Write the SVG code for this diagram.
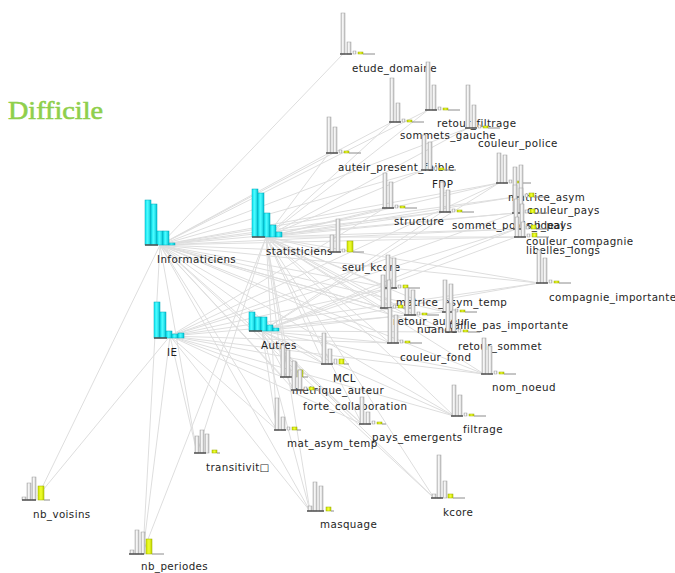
<svg xmlns="http://www.w3.org/2000/svg" width="675" height="573" viewBox="0 0 675 573">
<defs>
<linearGradient id="gg" x1="0" y1="0" x2="1" y2="0"><stop offset="0" stop-color="#c4c4c4"/><stop offset="0.45" stop-color="#ffffff"/><stop offset="1" stop-color="#b8b8b8"/></linearGradient>
<linearGradient id="cg" x1="0" y1="0" x2="1" y2="0"><stop offset="0" stop-color="#10e6f2"/><stop offset="0.45" stop-color="#4dfcff"/><stop offset="1" stop-color="#00c4d6"/></linearGradient>
<linearGradient id="yg" x1="0" y1="0" x2="1" y2="0"><stop offset="0" stop-color="#d0e400"/><stop offset="0.5" stop-color="#f0ff30"/><stop offset="1" stop-color="#c0d400"/></linearGradient>
</defs>
<style>
.edge path{stroke:#dedede;stroke-width:1;fill:none}
.g{fill:url(#gg);stroke:#a0a0a0;stroke-width:0.5}
.c{fill:url(#cg);stroke:#00a6b6;stroke-width:0.5}
.y{fill:url(#yg);stroke:#9aab00;stroke-width:0.5}
.t{stroke:#8c8c8c;stroke-width:1;fill:none}
.b{stroke:#505050;stroke-width:1.5;fill:none}
text{font-family:"DejaVu Sans","Liberation Sans",sans-serif;font-size:10.3px;letter-spacing:0.4px;fill:#1e1e1e}
.title{font-family:"Liberation Serif","DejaVu Serif",serif;font-size:26px;letter-spacing:0;fill:#8fcf4c;stroke:#8fcf4c;stroke-width:0.6}
</style>
<rect width="675" height="573" fill="#ffffff"/>
<text class="title" x="8" y="119" textLength="95" lengthAdjust="spacingAndGlyphs">Difficile</text>
<g id="edges" class="edge">
<path d="M160 245L343 54"/><path d="M160 245L428 110"/><path d="M160 245L392 122"/><path d="M160 245L468 128"/><path d="M160 245L329 153"/><path d="M160 245L424 170"/><path d="M160 245L385 208"/><path d="M160 245L442 212"/><path d="M160 245L499 183"/><path d="M160 245L515 197"/><path d="M160 245L515 213"/><path d="M160 245L516 229"/><path d="M160 245L516 237"/><path d="M160 245L539 283"/><path d="M160 245L332 252"/><path d="M160 245L390 288"/><path d="M160 245L383 308"/><path d="M160 245L407 315"/><path d="M160 245L445 312"/><path d="M160 245L390 343"/><path d="M160 245L448 332"/><path d="M160 245L484 374"/><path d="M160 245L324 364"/><path d="M160 245L283 377"/><path d="M160 245L294 390"/><path d="M160 245L362 424"/><path d="M160 245L277 430"/><path d="M160 245L197 453"/><path d="M160 245L38 496"/><path d="M160 245L143 552"/><path d="M160 245L454 416"/><path d="M160 245L434 498"/><path d="M160 245L310 511"/>
<path d="M266 237L428 110"/><path d="M266 237L392 122"/><path d="M266 237L468 128"/><path d="M266 237L329 153"/><path d="M266 237L424 170"/><path d="M266 237L385 208"/><path d="M266 237L442 212"/><path d="M266 237L499 183"/><path d="M266 237L515 197"/><path d="M266 237L515 213"/><path d="M266 237L516 229"/><path d="M266 237L516 237"/><path d="M266 237L539 283"/><path d="M266 237L332 252"/><path d="M266 237L390 288"/><path d="M266 237L383 308"/><path d="M266 237L407 315"/><path d="M266 237L445 312"/><path d="M266 237L390 343"/><path d="M266 237L448 332"/><path d="M266 237L484 374"/><path d="M266 237L324 364"/><path d="M266 237L283 377"/><path d="M266 237L294 390"/><path d="M266 237L362 424"/><path d="M266 237L277 430"/><path d="M266 237L197 453"/><path d="M266 237L143 552"/><path d="M266 237L454 416"/><path d="M266 237L434 498"/><path d="M266 237L310 511"/>
<path d="M170 336L385 208"/><path d="M170 336L499 183"/><path d="M170 336L515 213"/><path d="M170 336L516 229"/><path d="M170 336L539 283"/><path d="M170 336L390 288"/><path d="M170 336L445 312"/><path d="M170 336L390 343"/><path d="M170 336L484 374"/><path d="M170 336L324 364"/><path d="M170 336L283 377"/><path d="M170 336L362 424"/><path d="M170 336L277 430"/><path d="M170 336L197 453"/><path d="M170 336L38 496"/><path d="M170 336L143 552"/><path d="M170 336L454 416"/><path d="M170 336L310 511"/>
<path d="M262 331L442 212"/><path d="M262 331L499 183"/><path d="M262 331L516 229"/><path d="M262 331L516 237"/><path d="M262 331L539 283"/><path d="M262 331L390 288"/><path d="M262 331L407 315"/><path d="M262 331L390 343"/><path d="M262 331L448 332"/><path d="M262 331L484 374"/><path d="M262 331L324 364"/><path d="M262 331L294 390"/><path d="M262 331L362 424"/><path d="M262 331L277 430"/><path d="M262 331L454 416"/><path d="M262 331L434 498"/><path d="M262 331L310 511"/>
</g>

<g id="n_Informaticiens"><text x="157" y="263">Informaticiens</text><g transform="translate(145,245)"><rect class="c" x="0" y="-45" width="6" height="45"/><rect class="c" x="6" y="-41" width="6" height="41"/><rect class="c" x="12" y="-14" width="6" height="14"/><rect class="c" x="18" y="-14" width="6" height="14"/><rect class="c" x="24" y="-2" width="6" height="2"/><path class="b" d="M0 0H13"/></g></g>
<g id="n_statisticiens"><text x="266" y="255">statisticiens</text><g transform="translate(252,237)"><rect class="c" x="0" y="-48" width="6" height="48"/><rect class="c" x="6" y="-44" width="6" height="44"/><rect class="c" x="12" y="-24" width="6" height="24"/><rect class="c" x="18" y="-12" width="6" height="12"/><rect class="c" x="24" y="-5" width="6" height="5"/><path class="b" d="M0 0H13"/></g></g>
<g id="n_IE"><text x="167" y="356">IE</text><g transform="translate(154,338)"><rect class="c" x="0" y="-36" width="6" height="36"/><rect class="c" x="6" y="-26" width="6" height="26"/><rect class="c" x="12" y="-7" width="6" height="7"/><rect class="c" x="18" y="-4" width="6" height="4"/><rect class="c" x="24" y="-5" width="6" height="5"/><path class="b" d="M0 0H13"/></g></g>
<g id="n_Autres"><text x="261" y="349">Autres</text><g transform="translate(249,331)"><rect class="c" x="0" y="-19" width="6" height="19"/><rect class="c" x="6" y="-14" width="6" height="14"/><rect class="c" x="12" y="-14" width="6" height="14"/><rect class="c" x="18" y="-6" width="6" height="6"/><rect class="c" x="24" y="-3" width="6" height="3"/><path class="b" d="M0 0H13"/></g></g>

<g id="n_etude_domaine"><text x="352" y="72">etude_domaine</text><g transform="translate(341,54)"><rect class="g" x="0" y="-41" width="4" height="41"/><rect class="g" x="6" y="-12" width="4" height="12"/><rect class="g" x="12" y="-3" width="3" height="3"/><rect class="y" x="17" y="-2" width="5" height="2"/><path class="t" d="M22 0H34"/><path class="b" d="M-1 0H11"/></g></g>
<g id="n_retour_filtrage"><text x="437" y="127">retour_filtrage</text><g transform="translate(426,110)"><rect class="g" x="0" y="-48" width="4" height="48"/><rect class="g" x="6" y="-25" width="4" height="25"/><rect class="g" x="12" y="-3" width="3" height="3"/><rect class="y" x="17" y="-2" width="5" height="2"/><path class="t" d="M22 0H34"/><path class="b" d="M-1 0H11"/></g></g>
<g id="n_sommets_gauche"><text x="400" y="139">sommets_gauche</text><g transform="translate(390,122)"><rect class="g" x="0" y="-44" width="4" height="44"/><rect class="g" x="6" y="-19" width="4" height="19"/><rect class="g" x="12" y="-3" width="3" height="3"/><rect class="y" x="17" y="-2" width="5" height="2"/><path class="t" d="M22 0H34"/><path class="b" d="M-1 0H11"/></g></g>
<g id="n_couleur_police"><text x="478" y="147">couleur_police</text><g transform="translate(466,128)"><rect class="g" x="0" y="-43" width="4" height="43"/><rect class="g" x="6" y="-23" width="4" height="23"/><rect class="g" x="12" y="-3" width="3" height="3"/><rect class="y" x="17" y="-2" width="5" height="2"/><path class="t" d="M22 0H34"/><path class="b" d="M-1 0H11"/></g></g>
<g id="n_auteir_present_faible"><text x="338" y="171">auteir_present_faible</text><g transform="translate(327,153)"><rect class="g" x="0" y="-36" width="4" height="36"/><rect class="g" x="6" y="-26" width="4" height="26"/><rect class="g" x="12" y="-3" width="3" height="3"/><rect class="y" x="17" y="-2" width="5" height="2"/><path class="t" d="M22 0H34"/><path class="b" d="M-1 0H11"/></g></g>
<g id="n_FDP"><text x="432" y="188">FDP</text><g transform="translate(422,170)"><rect class="g" x="0" y="-35" width="4" height="35"/><rect class="g" x="6" y="-28" width="4" height="28"/><rect class="g" x="12" y="-3" width="3" height="3"/><rect class="y" x="17" y="-2" width="5" height="2"/><path class="t" d="M22 0H34"/><path class="b" d="M-1 0H11"/></g></g>
<g id="n_structure"><text x="394" y="225">structure</text><g transform="translate(383,208)"><rect class="g" x="0" y="-35" width="4" height="35"/><rect class="g" x="6" y="-26" width="4" height="26"/><rect class="g" x="12" y="-3" width="3" height="3"/><rect class="y" x="17" y="-2" width="5" height="2"/><path class="t" d="M22 0H34"/><path class="b" d="M-1 0H11"/></g></g>
<g id="n_sommet_poids_ideal"><text x="452" y="229">sommet_poids_ideal</text><g transform="translate(440,212)"><rect class="g" x="0" y="-30" width="4" height="30"/><rect class="g" x="6" y="-22" width="4" height="22"/><rect class="g" x="12" y="-3" width="3" height="3"/><rect class="y" x="17" y="-2" width="5" height="2"/><path class="t" d="M22 0H34"/><path class="b" d="M-1 0H11"/></g></g>
<g id="n_matrice_asym"><text x="508" y="201">matrice_asym</text><g transform="translate(497,183)"><rect class="g" x="0" y="-30" width="4" height="30"/><rect class="g" x="6" y="-28" width="4" height="28"/><rect class="g" x="12" y="-3" width="3" height="3"/><rect class="y" x="17" y="-2" width="5" height="2"/><path class="t" d="M22 0H34"/><path class="b" d="M-1 0H11"/></g></g>
<g id="n_couleur_pays"><text x="527" y="214">couleur_pays</text><g transform="translate(513,197)"><rect class="g" x="0" y="-30" width="4" height="30"/><rect class="g" x="6" y="-32" width="4" height="32"/><rect class="g" x="12" y="-3" width="3" height="3"/><rect class="y" x="16" y="-4" width="5" height="4"/><path class="t" d="M21 0H33"/><path class="b" d="M-1 0H11"/></g></g>
<g id="n_nb_pays"><text x="527" y="229">nb_pays</text><g transform="translate(513,213)"><rect class="g" x="0" y="-28" width="4" height="28"/><rect class="g" x="6" y="-25" width="4" height="25"/><rect class="g" x="12" y="-3" width="3" height="3"/><rect class="y" x="17" y="-4" width="5" height="4"/><path class="t" d="M22 0H34"/><path class="b" d="M-1 0H11"/></g></g>
<g id="n_couleur_compagnie"><text x="526" y="245">couleur_compagnie</text><g transform="translate(514,229)"><rect class="g" x="0" y="-30" width="4" height="30"/><rect class="g" x="6" y="-25" width="4" height="25"/><rect class="g" x="12" y="-3" width="3" height="3"/><rect class="y" x="17" y="-4" width="5" height="4"/><path class="t" d="M22 0H34"/><path class="b" d="M-1 0H11"/></g></g>
<g id="n_libelles_longs"><text x="526" y="254">libelles_longs</text><g transform="translate(515,237)"><rect class="g" x="0" y="-20" width="4" height="20"/><rect class="g" x="6" y="-15" width="4" height="15"/><rect class="g" x="12" y="-3" width="3" height="3"/><rect class="y" x="17" y="-4" width="5" height="4"/><path class="t" d="M22 0H34"/><path class="b" d="M-1 0H11"/></g></g>
<g id="n_compagnie_importante"><text x="549" y="301">compagnie_importante</text><g transform="translate(537,283)"><rect class="g" x="0" y="-33" width="4" height="33"/><rect class="g" x="6" y="-25" width="4" height="25"/><rect class="g" x="12" y="-3" width="3" height="3"/><rect class="y" x="17" y="-2" width="5" height="2"/><path class="t" d="M22 0H34"/><path class="b" d="M-1 0H11"/></g></g>
<g id="n_seul_kcore"><text x="342" y="271">seul_kcore</text><g transform="translate(330,252)"><rect class="g" x="0" y="-17" width="4" height="17"/><rect class="g" x="6" y="-33" width="4" height="33"/><rect class="g" x="12" y="-3" width="3" height="3"/><rect class="y" x="17" y="-11" width="6" height="11"/><path class="t" d="M23 0H34"/><path class="b" d="M-1 0H11"/></g></g>
<g id="n_matrice_asym_temp"><text x="396" y="306">matrice_asym_temp</text><g transform="translate(386,288)"><rect class="g" x="0" y="-33" width="4" height="33"/><rect class="g" x="6" y="-30" width="4" height="30"/><rect class="g" x="12" y="-3" width="3" height="3"/><rect class="y" x="17" y="-3" width="5" height="3"/><path class="t" d="M22 0H34"/><path class="b" d="M-1 0H11"/></g></g>
<g id="n_retour_auteur"><text x="393" y="325">retour_auteur</text><g transform="translate(381,308)"><rect class="g" x="0" y="-33" width="4" height="33"/><rect class="g" x="6" y="-28" width="4" height="28"/><rect class="g" x="12" y="-3" width="3" height="3"/><rect class="y" x="17" y="-3" width="5" height="3"/><path class="t" d="M22 0H34"/><path class="b" d="M-1 0H11"/></g></g>
<g id="n_taille_pas_importante"><text x="449" y="329">taille_pas_importante</text><g transform="translate(443,312)"><rect class="g" x="0" y="-32" width="4" height="32"/><rect class="g" x="6" y="-28" width="4" height="28"/><rect class="g" x="12" y="-3" width="3" height="3"/><rect class="y" x="17" y="-2" width="5" height="2"/><path class="t" d="M22 0H34"/><path class="b" d="M-1 0H11"/></g></g>
<g id="n_nuance"><text x="417" y="333">nuance</text><g transform="translate(405,315)"><rect class="g" x="0" y="-27" width="4" height="27"/><rect class="g" x="6" y="-25" width="4" height="25"/><rect class="g" x="12" y="-3" width="3" height="3"/><rect class="y" x="17" y="-2" width="5" height="2"/><path class="t" d="M22 0H34"/><path class="b" d="M-1 0H11"/></g></g>
<g id="n_couleur_fond"><text x="400" y="361">couleur_fond</text><g transform="translate(388,343)"><rect class="g" x="0" y="-35" width="4" height="35"/><rect class="g" x="6" y="-28" width="4" height="28"/><rect class="g" x="12" y="-3" width="3" height="3"/><rect class="y" x="17" y="-2" width="5" height="2"/><path class="t" d="M22 0H34"/><path class="b" d="M-1 0H11"/></g></g>
<g id="n_retour_sommet"><text x="458" y="350">retour_sommet</text><g transform="translate(446,332)"><rect class="g" x="0" y="-29" width="4" height="29"/><rect class="g" x="6" y="-22" width="4" height="22"/><rect class="g" x="12" y="-3" width="3" height="3"/><rect class="y" x="17" y="-2" width="5" height="2"/><path class="t" d="M22 0H34"/><path class="b" d="M-1 0H11"/></g></g>
<g id="n_nom_noeud"><text x="492" y="391">nom_noeud</text><g transform="translate(482,374)"><rect class="g" x="0" y="-36" width="4" height="36"/><rect class="g" x="6" y="-28" width="4" height="28"/><rect class="g" x="12" y="-3" width="3" height="3"/><rect class="y" x="17" y="-2" width="5" height="2"/><path class="t" d="M22 0H34"/><path class="b" d="M-1 0H11"/></g></g>
<g id="n_MCL"><text x="333" y="382">MCL</text><g transform="translate(322,364)"><rect class="g" x="0" y="-31" width="4" height="31"/><rect class="g" x="6" y="-15" width="4" height="15"/><rect class="g" x="12" y="-5" width="3" height="5"/><rect class="y" x="17" y="-5" width="5" height="5"/><path class="t" d="M22 0H27"/><path class="b" d="M-1 0H11"/></g></g>
<g id="n_metrique_auteur"><text x="292" y="394">metrique_auteur</text><g transform="translate(281,377)"><rect class="g" x="0" y="-32" width="4" height="32"/><rect class="g" x="5" y="-27" width="4" height="27"/><rect class="g" x="12" y="-15" width="4" height="15"/><rect class="y" x="17" y="-7" width="5" height="7"/><path class="t" d="M22 0H27"/><path class="b" d="M-1 0H11"/></g></g>
<g id="n_forte_collaboration"><text x="303" y="410">forte_collaboration</text><g transform="translate(292,390)"><rect class="g" x="0" y="-29" width="4" height="29"/><rect class="g" x="6" y="-20" width="4" height="20"/><rect class="g" x="12" y="-3" width="3" height="3"/><rect class="y" x="17" y="-3" width="5" height="3"/><path class="t" d="M22 0H27"/><path class="b" d="M-1 0H11"/></g></g>
<g id="n_pays_emergents"><text x="372" y="441">pays_emergents</text><g transform="translate(360,424)"><rect class="g" x="0" y="-27" width="4" height="27"/><rect class="g" x="6" y="-12" width="4" height="12"/><rect class="g" x="12" y="-3" width="3" height="3"/><rect class="y" x="17" y="-2" width="5" height="2"/><path class="t" d="M22 0H26"/><path class="b" d="M-1 0H11"/></g></g>
<g id="n_mat_asym_temp"><text x="287" y="447">mat_asym_temp</text><g transform="translate(275,430)"><rect class="g" x="0" y="-32" width="4" height="32"/><rect class="g" x="6" y="-13" width="4" height="13"/><rect class="g" x="12" y="-3" width="3" height="3"/><rect class="y" x="17" y="-3" width="5" height="3"/><path class="t" d="M22 0H26"/><path class="b" d="M-1 0H11"/></g></g>
<g id="n_transitivite"><text x="206" y="471">transitivit□</text><g transform="translate(195,453)"><rect class="g" x="0" y="-17" width="4" height="17"/><rect class="g" x="5" y="-23" width="4" height="23"/><rect class="g" x="10" y="-19" width="4" height="19"/><rect class="y" x="17" y="-3" width="5" height="3"/><path class="t" d="M22 0H25"/><path class="b" d="M-1 0H11"/></g></g>
<g id="n_nb_voisins"><text x="33" y="518">nb_voisins</text><g transform="translate(22,500)"><rect class="g" x="0" y="-3" width="4" height="3"/><rect class="g" x="5" y="-17" width="4" height="17"/><rect class="g" x="10" y="-23" width="4" height="23"/><rect class="y" x="16" y="-14" width="6" height="14"/><path class="t" d="M22 0H28"/><path class="b" d="M0 0H14"/></g></g>
<g id="n_nb_periodes"><text x="141" y="570">nb_periodes</text><g transform="translate(130,554)"><rect class="g" x="0" y="-4" width="4" height="4"/><rect class="g" x="5" y="-24" width="4" height="24"/><rect class="g" x="11" y="-22" width="4" height="22"/><rect class="y" x="16" y="-15" width="6" height="15"/><path class="t" d="M22 0H34"/><path class="b" d="M-1 0H14"/></g></g>
<g id="n_filtrage"><text x="463" y="433">filtrage</text><g transform="translate(452,416)"><rect class="g" x="0" y="-31" width="4" height="31"/><rect class="g" x="6" y="-21" width="4" height="21"/><rect class="g" x="12" y="-3" width="3" height="3"/><rect class="y" x="17" y="-2" width="5" height="2"/><path class="t" d="M22 0H34"/><path class="b" d="M-1 0H11"/></g></g>
<g id="n_kcore"><text x="443" y="516">kcore</text><g transform="translate(432,498)"><rect class="g" x="0" y="-4" width="4" height="4"/><rect class="g" x="5" y="-43" width="4" height="43"/><rect class="g" x="11" y="-17" width="4" height="17"/><rect class="y" x="16" y="-4" width="5" height="4"/><path class="t" d="M21 0H33"/><path class="b" d="M-1 0H11"/></g></g>
<g id="n_masquage"><text x="320" y="528">masquage</text><g transform="translate(308,511)"><rect class="g" x="0" y="-5" width="4" height="5"/><rect class="g" x="5" y="-29" width="4" height="29"/><rect class="g" x="11" y="-25" width="4" height="25"/><rect class="y" x="18" y="-4" width="5" height="4"/><path class="t" d="M23 0H26"/><path class="b" d="M-1 0H16"/></g></g>
</svg>
